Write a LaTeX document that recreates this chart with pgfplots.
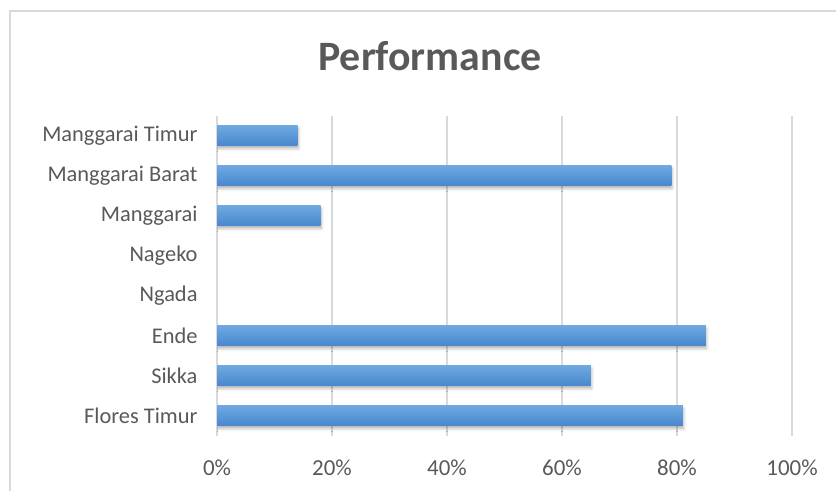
\documentclass[border=0pt]{standalone}
\usepackage{pgfplots}
\pgfplotsset{compat=1.18}
\usepackage{fontspec}
\setmainfont{Carlito}
\usetikzlibrary{shadows.blur}
\definecolor{txtc}{HTML}{595959}
\definecolor{gridc}{HTML}{D9D9D9}
\definecolor{bartop}{HTML}{6EA8E0}
\definecolor{barbot}{HTML}{4787CD}
\begin{document}
\begin{tikzpicture}[x=1bp,y=1bp]
\path[use as bounding box] (0,0) rectangle (836,491);
\draw[gridc, line width=1.5bp] (10,-10) rectangle (850,480);
\node[anchor=base, font=\fontsize{42}{48}\selectfont\bfseries, text=txtc] at (430,420) {Performance};
\begin{axis}[at={(217bp,55bp)}, anchor=south west, scale only axis, width=575bp, height=320bp,
 xmin=0,xmax=100, ymin=-0.5,ymax=7.5,
 xtick={0,20,40,60,80,100}, xticklabels={0\%,20\%,40\%,60\%,80\%,100\%},
 ytick={0,...,7}, yticklabels={Flores Timur,Sikka,Ende,Ngada,Nageko,Manggarai,Manggarai Barat,Manggarai Timur},
 xmajorgrids, major grid style={gridc, line width=1.5bp},
 axis line style={draw=none}, major tick length=0,
 tick label style={text=txtc},
 xticklabel style={font=\fontsize{23}{28}\selectfont, yshift=-20bp},
 yticklabel style={font=\fontsize{22.5}{26}\selectfont, xshift=-16bp},
 xbar, bar width=20bp, bar shift=0pt,
 barstyle/.style={draw=none, top color=bartop, bottom color=barbot, bar shift=0pt,
  blur shadow={shadow xshift=0.8bp, shadow yshift=-2.5bp, shadow blur radius=3bp, shadow opacity=30}}]
\addplot[barstyle] coordinates {(81,0)};
\addplot[barstyle] coordinates {(65,1)};
\addplot[barstyle] coordinates {(85,2)};
\addplot[draw=none, fill=none, bar shift=0pt] coordinates {(0,3)};
\addplot[draw=none, fill=none, bar shift=0pt] coordinates {(0,4)};
\addplot[barstyle] coordinates {(18,5)};
\addplot[barstyle] coordinates {(79,6)};
\addplot[barstyle] coordinates {(14,7)};
\end{axis}
\end{tikzpicture}
\end{document}
